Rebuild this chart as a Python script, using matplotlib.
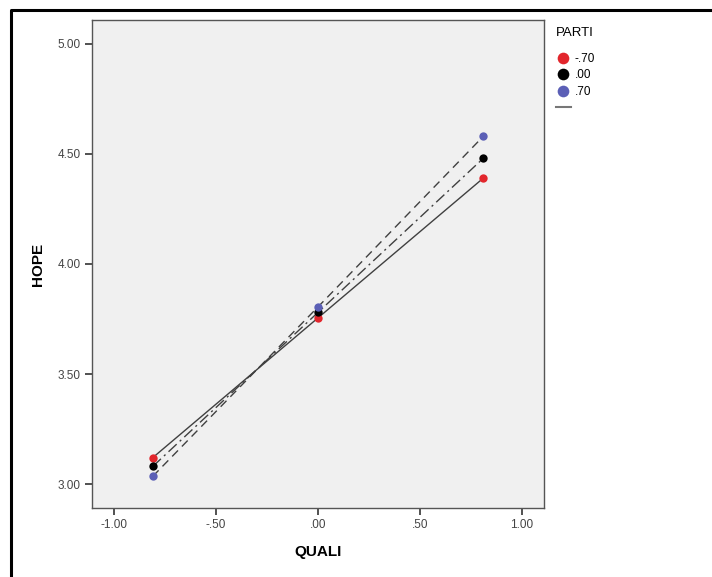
"""Interaction plot of HOPE on QUALI by PARTI level."""

import matplotlib.pyplot as plt
from matplotlib.lines import Line2D

# Data
quali = [-0.81, 0.00, 0.81]
parti_labels = ["-.70", ".00", ".70"]
hope_low = [3.12, 3.755, 4.39]
hope_mid = [3.08, 3.78, 4.48]
hope_high = [3.035, 3.805, 4.58]

x_ticks = [-1.0, -0.5, 0.0, 0.5, 1.0]
x_tick_labels = ["-1.00", "-.50", ".00", ".50", "1.00"]
y_ticks = [3.0, 3.5, 4.0, 4.5, 5.0]
y_tick_labels = ["3.00", "3.50", "4.00", "4.50", "5.00"]

colors = ["#e2262c", "#000000", "#5b5fb6"]
line_styles = ["-", (0, (8, 3, 1.5, 3)), (0, (6, 4))]

plt.rcParams["font.family"] = ["Liberation Sans", "DejaVu Sans"]

W, H = 712, 577
fig = plt.figure(figsize=(W / 100, H / 100), dpi=100)
ax = fig.add_axes([92 / W, 1 - 508 / H, (544 - 92) / W, (508 - 20) / H])
ax.set_facecolor("#f0f0f0")

series = [hope_low, hope_mid, hope_high]
for ys, col, ls, lab in zip(series, colors, line_styles, parti_labels):
    ax.plot(quali, ys, color="#404040", linestyle=ls, linewidth=1.0, zorder=2)
    ax.plot(quali, ys, linestyle="none", marker="o", markersize=6,
            color=col, markeredgewidth=0, zorder=3, label=lab)

ax.set_xlim(-1.108, 1.108)
ax.set_ylim(2.891, 5.109)
ax.set_xticks(x_ticks)
ax.set_xticklabels(x_tick_labels)
ax.set_yticks(y_ticks)
ax.set_yticklabels(y_tick_labels)
ax.tick_params(direction="out", length=5, width=1.2, colors="#333333",
               labelsize=8.5, labelcolor="#444444", pad=3)
for sp in ax.spines.values():
    sp.set_color("#555555")
    sp.set_linewidth(1.0)

ax.set_xlabel("QUALI", fontsize=11, fontweight="bold", labelpad=10)
ax.set_ylabel("HOPE", fontsize=11, fontweight="bold", labelpad=9)

# Legend with an extra unlabeled line entry, as in the original
handles, labels = ax.get_legend_handles_labels()
handles.append(Line2D([], [], color="#777777", linewidth=1.5))
labels.append("")
leg = ax.legend(handles, labels, title="PARTI", loc="upper left",
                bbox_to_anchor=(1.01, 1.0), frameon=False, fontsize=8.5,
                title_fontsize=9.5, alignment="left", handlelength=1.3,
                handletextpad=0.3, labelspacing=0.38, borderaxespad=0.2,
                markerscale=1.4)
leg._legend_box.sep = 10  # gap between title and entries

# Outer frame (only left and top edges visible)
fx = 10.5 / W
fy = 1 - 9.5 / H
fig.add_artist(Line2D([fx, fx, 1.0], [0.0, fy, fy], color="black",
                      linewidth=2.2, transform=fig.transFigure))

fig.savefig("out.png", dpi=100)
